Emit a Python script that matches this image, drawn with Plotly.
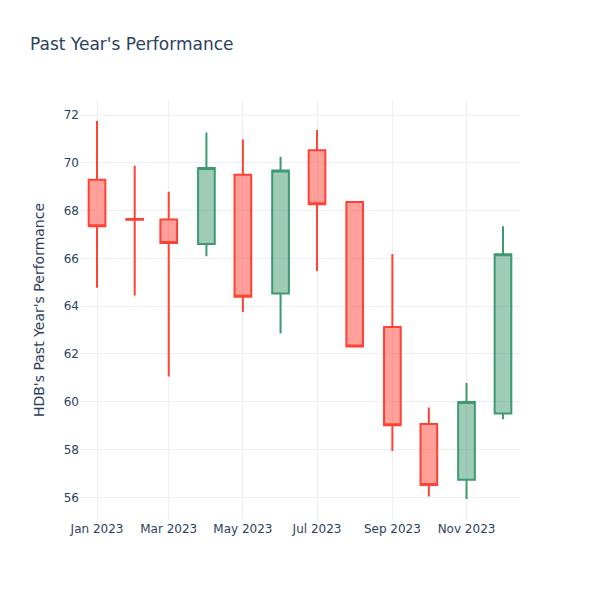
import plotly.graph_objects as go

dates = ["2023-01-01", "2023-02-01", "2023-03-01", "2023-04-01", "2023-05-01", "2023-06-01",
         "2023-07-01", "2023-08-01", "2023-09-01", "2023-10-01", "2023-11-01", "2023-12-01"]
open_ = [69.29, 67.65, 67.63, 66.60, 69.50, 64.53, 70.53, 68.36, 63.13, 59.07, 56.74, 59.51]
high = [71.75, 69.88, 68.79, 71.27, 70.98, 70.25, 71.37, 68.36, 66.18, 59.76, 60.79, 67.35]
low = [64.77, 64.45, 61.06, 66.09, 63.76, 62.86, 65.47, 62.31, 57.94, 56.03, 55.93, 59.27]
close = [67.35, 67.62, 66.64, 69.78, 64.39, 69.68, 68.27, 62.31, 59.02, 56.52, 59.99, 66.17]

fig = go.Figure(go.Candlestick(x=dates, open=open_, high=high, low=low, close=close))
fig.update_layout(
    template="plotly_white",
    font=dict(family="DejaVu Sans"),
    title=dict(text="Past Year's Performance", x=22 / 600, xanchor="left",
               y=1 - 36 / 600, yanchor="middle"),
    yaxis_title="HDB's Past Year's Performance",
    xaxis_rangeslider_visible=False,
    width=600,
    height=600,
    margin=dict(l=72, r=88, t=92, b=88),
)
fig.write_html("out.html")
